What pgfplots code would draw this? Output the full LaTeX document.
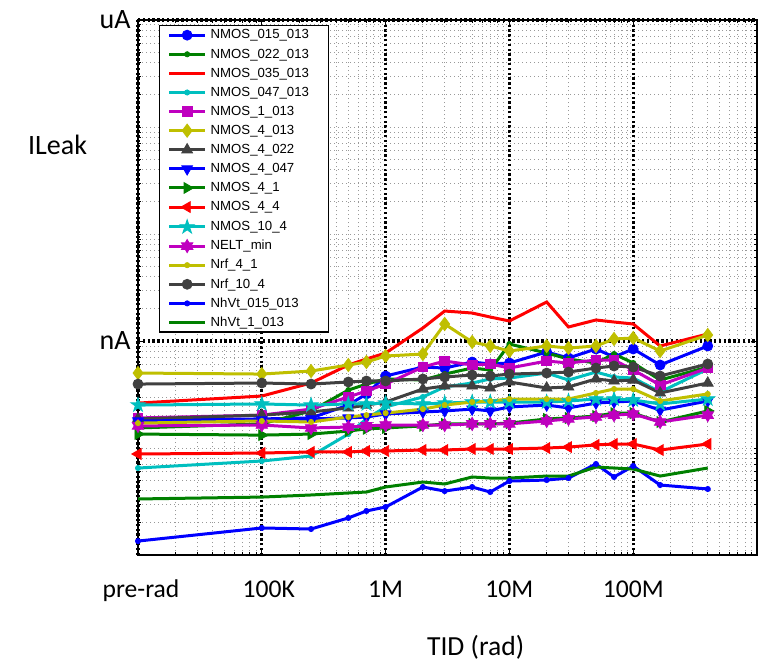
\documentclass[border=0pt]{standalone}
\usepackage{fontspec}
\setmainfont{Carlito}
\newfontfamily\arialfont{Liberation Sans}
\usepackage{pgfplots}
\pgfplotsset{compat=1.18}
\usepackage{pgfplotstable}

\definecolor{mblue}{rgb}{0,0,1}
\definecolor{mgreen}{rgb}{0,0.5,0}
\definecolor{mred}{rgb}{1,0,0}
\definecolor{mcyan}{rgb}{0,0.75,0.75}
\definecolor{mmag}{rgb}{0.75,0,0.75}
\definecolor{myel}{rgb}{0.75,0.75,0}
\definecolor{mgray}{rgb}{0.25,0.25,0.25}

\pgfdeclareplotmark{pentastar}{%
 \pgfpathmoveto{\pgfpointpolar{90}{\pgfplotmarksize}}%
 \pgfpathlineto{\pgfpointpolar{126}{0.382\pgfplotmarksize}}%
 \pgfpathlineto{\pgfpointpolar{162}{\pgfplotmarksize}}%
 \pgfpathlineto{\pgfpointpolar{198}{0.382\pgfplotmarksize}}%
 \pgfpathlineto{\pgfpointpolar{234}{\pgfplotmarksize}}%
 \pgfpathlineto{\pgfpointpolar{270}{0.382\pgfplotmarksize}}%
 \pgfpathlineto{\pgfpointpolar{306}{\pgfplotmarksize}}%
 \pgfpathlineto{\pgfpointpolar{342}{0.382\pgfplotmarksize}}%
 \pgfpathlineto{\pgfpointpolar{18}{\pgfplotmarksize}}%
 \pgfpathlineto{\pgfpointpolar{54}{0.382\pgfplotmarksize}}%
 \pgfpathclose\pgfusepathqfillstroke}
\pgfdeclareplotmark{hexastar}{%
 \pgfpathmoveto{\pgfpointpolar{90}{\pgfplotmarksize}}%
 \pgfpathlineto{\pgfpointpolar{120}{0.577\pgfplotmarksize}}%
 \pgfpathlineto{\pgfpointpolar{150}{\pgfplotmarksize}}%
 \pgfpathlineto{\pgfpointpolar{180}{0.577\pgfplotmarksize}}%
 \pgfpathlineto{\pgfpointpolar{210}{\pgfplotmarksize}}%
 \pgfpathlineto{\pgfpointpolar{240}{0.577\pgfplotmarksize}}%
 \pgfpathlineto{\pgfpointpolar{270}{\pgfplotmarksize}}%
 \pgfpathlineto{\pgfpointpolar{300}{0.577\pgfplotmarksize}}%
 \pgfpathlineto{\pgfpointpolar{330}{\pgfplotmarksize}}%
 \pgfpathlineto{\pgfpointpolar{0}{0.577\pgfplotmarksize}}%
 \pgfpathlineto{\pgfpointpolar{30}{\pgfplotmarksize}}%
 \pgfpathlineto{\pgfpointpolar{60}{0.577\pgfplotmarksize}}%
 \pgfpathclose\pgfusepathqfillstroke}

% leakage current in nA versus TID in rad
\pgfplotstableread{
x      s1    s2    s3    s4     s5    s6    s7    s8    s9    s10    s11   s12   s13   s14   s15    s16
1e4    0.183 0.154 0.263 0.0650 0.191 0.502 0.187 0.179 0.135 0.0879 0.252 0.161 0.171 0.396 0.0135 0.0334
1e5    0.187 0.168 0.306 0.0756 0.203 0.491 0.203 0.183 0.132 0.0898 0.258 0.164 0.179 0.405 0.0179 0.0348
2.5e5  0.191 0.222 0.405 0.0842 0.231 0.524 0.217 0.187 0.135 0.0918 0.252 0.154 0.175 0.396 0.0175 0.0364
5e5    0.252 0.348 0.597 0.135  0.300 0.597 0.237 0.191 0.144 0.0918 0.258 0.157 0.195 0.414 0.0222 0.0380
7e5    0.320 0.396 0.679 0.187  0.341 0.636 0.252 0.195 0.151 0.0938 0.258 0.161 0.203 0.423 0.0258 0.0388
1e6    0.471 0.442 0.772 0.242  0.396 0.724 0.269 0.208 0.154 0.0938 0.263 0.164 0.212 0.423 0.0281 0.0432
2e6    0.571 0.432 1.323 0.300  0.571 0.756 0.356 0.217 0.161 0.0958 0.258 0.164 0.231 0.442 0.0432 0.0481
3e6    0.559 0.491 1.907 0.372  0.650 1.442 0.380 0.222 0.168 0.0958 0.263 0.164 0.252 0.461 0.0396 0.0461
5e6    0.636 0.559 1.826 0.405  0.597 0.979 0.380 0.231 0.168 0.0979 0.269 0.168 0.269 0.481 0.0432 0.0536
7e6    0.610 0.536 1.676 0.442  0.610 0.898 0.364 0.222 0.168 0.0979 0.269 0.168 0.275 0.471 0.0388 0.0524
1e7    0.623 0.937 1.538 0.451  0.559 0.806 0.414 0.242 0.171 0.0979 0.269 0.168 0.287 0.491 0.0491 0.0524
2e7    0.789 0.772 2.315 0.502  0.650 0.898 0.364 0.252 0.187 0.100  0.269 0.179 0.287 0.502 0.0502 0.0547
3e7    0.694 0.679 1.352 0.432  0.623 0.860 0.372 0.237 0.191 0.102  0.275 0.187 0.287 0.513 0.0524 0.0547
5e7    0.842 0.623 1.572 0.513  0.664 0.898 0.442 0.263 0.199 0.107  0.287 0.195 0.327 0.559 0.0709 0.0664
7e7    0.709 0.756 1.505 0.461  0.664 1.044 0.423 0.269 0.212 0.109  0.287 0.203 0.356 0.584 0.0536 0.0650
1e8    0.842 0.623 1.442 0.451  0.536 1.067 0.432 0.275 0.212 0.109  0.281 0.208 0.356 0.571 0.0679 0.0636
1.65e8 0.597 0.432 0.898 0.334  0.388 0.806 0.327 0.226 0.175 0.0958 0.258 0.175 0.275 0.471 0.0451 0.0547
4e8    0.898 0.571 1.163 0.547  0.559 1.138 0.405 0.275 0.222 0.109  0.287 0.203 0.320 0.610 0.0414 0.0650
}\datatable

\newcommand{\leg}[1]{\makebox[57pt][l]{\hspace{2pt}#1}}

\begin{document}
\begin{tikzpicture}
\useasboundingbox (-69pt,-52.5pt) rectangle (310pt,277.5pt);
\begin{axis}[
  at={(0,0)}, anchor=south west,
  scale only axis, width=309.5pt, height=267.5pt,
  xmode=log, ymode=log,
  xmin=1e4, xmax=1e9, ymin=0.01, ymax=1000,
  xtick={1e4,1e5,1e6,1e7,1e8},
  xticklabels={\mbox{\hspace{3pt}pre-rad},\mbox{\hspace{7pt}100K},\mbox{1M},\mbox{10M},\mbox{100M}},
  ytick={1,1000}, yticklabels={\mbox{nA},\mbox{uA}},
  minor xtick={2e4,3e4,4e4,5e4,6e4,7e4,8e4,9e4,2e5,3e5,4e5,5e5,6e5,7e5,8e5,9e5,2e6,3e6,4e6,5e6,6e6,7e6,8e6,9e6,2e7,3e7,4e7,5e7,6e7,7e7,8e7,9e7,2e8,3e8,4e8,5e8,6e8,7e8,8e8,9e8},
  minor ytick={0.02,0.03,0.04,0.05,0.06,0.07,0.08,0.09,0.1,0.2,0.3,0.4,0.5,0.6,0.7,0.8,0.9,2,3,4,5,6,7,8,9,10,20,30,40,50,60,70,80,90,100,200,300,400,500,600,700,800,900},
  tick align=inside, major tick length=3pt, minor tick length=1.6pt,
  every tick/.style={black, line width=0.4pt},
  xmajorgrids, ymajorgrids, xminorgrids, yminorgrids,
  major grid style={black, line width=1.6pt, dash pattern=on 1.2pt off 1.2pt},
  minor grid style={black!40, line width=0.4pt, dash pattern=on 0.5pt off 1.5pt},
  axis line style={line width=0.6pt},
  clip=false,
  xticklabel style={anchor=base, yshift=-21pt, inner sep=0pt, font=\fontsize{12.8}{14}\selectfont},
  yticklabel style={anchor=base east, xshift=-3.5pt, yshift=-4pt, inner sep=0pt, font=\fontsize{14}{16}\selectfont},
  xlabel={TID (rad)}, ylabel={ILeak},
  every axis x label/.style={at={(axis description cs:0.4556,-0.187)}, anchor=base west, font=\fontsize{13.8}{16}\selectfont},
  every axis y label/.style={at={(axis description cs:-0.189,0.7495)}, anchor=base west, font=\fontsize{14}{16}\selectfont},
  legend style={at={(axis description cs:0.034,0.9907)}, anchor=north west, draw=black, line width=0.6pt, fill=white,
    font=\arialfont\fontsize{6.6}{7}\selectfont, inner xsep=4pt, inner ysep=1.5pt, row sep=2.95pt,
    nodes={inner sep=0pt, text height=5.2pt, text depth=1.4pt}},
  legend cell align=left,
  legend image code/.code={\draw[mark repeat=2,mark phase=2] plot coordinates {(0pt,0pt) (9pt,0pt) (18pt,0pt)};},
  every axis plot/.append style={line width=1.5pt},
  table/x=x,
]
\addplot[mblue, mark=*, mark size=2.5pt, mark options={solid, line width=0.4pt}] table[y=s1] {\datatable};
\addlegendentry{\leg{NMOS\_015\_013}}
\addplot[mgreen, mark=*, mark size=1.3pt, mark options={solid, line width=0.4pt}] table[y=s2] {\datatable};
\addlegendentry{\leg{NMOS\_022\_013}}
\addplot[mred, no marks] table[y=s3] {\datatable};
\addlegendentry{\leg{NMOS\_035\_013}}
\addplot[mcyan, mark=*, mark size=1.3pt, mark options={solid, line width=0.4pt}] table[y=s4] {\datatable};
\addlegendentry{\leg{NMOS\_047\_013}}
\addplot[mmag, mark=square*, mark size=2.4pt, mark options={solid, line width=0.4pt}] table[y=s5] {\datatable};
\addlegendentry{\leg{NMOS\_1\_013}}
\addplot[myel, mark=diamond*, mark size=3.3pt, mark options={solid, line width=0.4pt}] table[y=s6] {\datatable};
\addlegendentry{\leg{NMOS\_4\_013}}
\addplot[mgray, mark=triangle*, mark size=3.1pt, mark options={solid, line width=0.4pt}] table[y=s7] {\datatable};
\addlegendentry{\leg{NMOS\_4\_022}}
\addplot[mblue, mark=triangle*, mark size=3.1pt, mark options={solid, line width=0.4pt, rotate=180}] table[y=s8] {\datatable};
\addlegendentry{\leg{NMOS\_4\_047}}
\addplot[mgreen, mark=triangle*, mark size=3.1pt, mark options={solid, line width=0.4pt, rotate=-90}] table[y=s9] {\datatable};
\addlegendentry{\leg{NMOS\_4\_1}}
\addplot[mred, mark=triangle*, mark size=3.1pt, mark options={solid, line width=0.4pt, rotate=90}] table[y=s10] {\datatable};
\addlegendentry{\leg{NMOS\_4\_4}}
\addplot[mcyan, mark=pentastar, mark size=3.7pt, mark options={solid, line width=0.4pt}] table[y=s11] {\datatable};
\addlegendentry{\leg{NMOS\_10\_4}}
\addplot[mmag, mark=hexastar, mark size=3.3pt, mark options={solid, line width=0.4pt}] table[y=s12] {\datatable};
\addlegendentry{\leg{NELT\_min}}
\addplot[myel, mark=*, mark size=1.3pt, mark options={solid, line width=0.4pt}] table[y=s13] {\datatable};
\addlegendentry{\leg{Nrf\_4\_1}}
\addplot[mgray, mark=*, mark size=2.5pt, mark options={solid, line width=0.4pt}] table[y=s14] {\datatable};
\addlegendentry{\leg{Nrf\_10\_4}}
\addplot[mblue, mark=*, mark size=1.3pt, mark options={solid, line width=0.4pt}] table[y=s15] {\datatable};
\addlegendentry{\leg{NhVt\_015\_013}}
\addplot[mgreen, no marks] table[y=s16] {\datatable};
\addlegendentry{\leg{NhVt\_1\_013}}
\end{axis}
\end{tikzpicture}
\end{document}
